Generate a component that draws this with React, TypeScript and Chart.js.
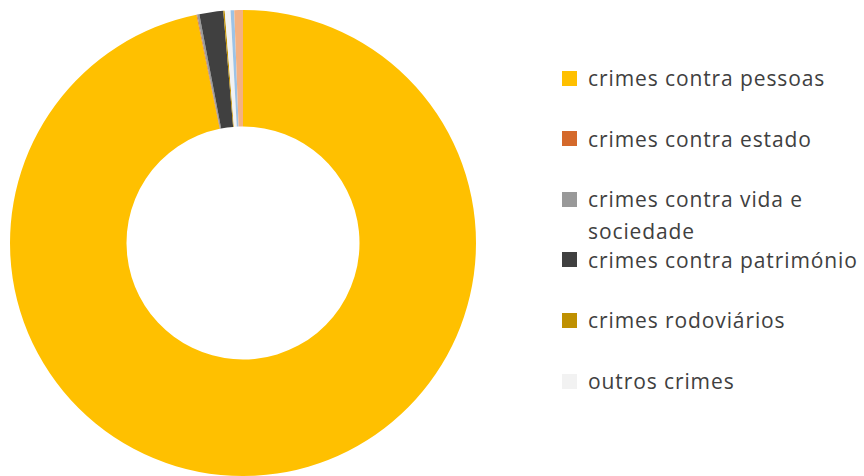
import React, { useEffect, useRef } from "react";
import { Chart, registerables } from "chart.js";

Chart.register(...registerables);

const categories = [
  "crimes contra pessoas",
  "crimes contra estado",
  "crimes contra vida e sociedade",
  "crimes contra património",
  "crimes rodoviários",
  "outros crimes",
];
// The two extra thin slices at the top have no legend entry in the reference
const extraSlices = ["", ""];
const values = [96.75, 0.05, 0.15, 1.65, 0.1, 0.4, 0.25, 0.6];
const colors = ["#FFC000", "#D4692B", "#999999", "#404040", "#BF9000", "#F2F2F2", "#9DC3E6", "#F4B183"];

export default function App() {
  const ref = useRef<HTMLCanvasElement | null>(null);
  useEffect(() => {
    if (!ref.current) return;
    const chart = new Chart(ref.current, {
      type: "doughnut",
      data: {
        labels: [...categories, ...extraSlices],
        datasets: [
          {
            data: values,
            backgroundColor: colors,
            borderWidth: 0,
          },
        ],
      },
      options: {
        animation: false,
        responsive: false,
        cutout: "50%",
        layout: { padding: 10 },
        plugins: { legend: { display: false }, tooltip: { enabled: false } },
      },
    });
    return () => chart.destroy();
  }, []);

  const slotTop = 78;
  const slotGap = 60.6;
  const lineH = 32;
  return (
    <div
      style={{
        position: "fixed",
        left: 0,
        top: 0,
        width: 864,
        height: 476,
        overflow: "hidden",
        background: "#fff",
      }}
    >
      <canvas ref={ref} width={486} height={486} style={{ position: "absolute", left: 0, top: 0 }} />
      {categories.map((c, i) => {
        const cy = slotTop + i * slotGap;
        return (
          <div key={c}>
            <div
              style={{
                position: "absolute",
                left: 562,
                top: cy - 7.5,
                width: 15,
                height: 15,
                background: colors[i],
              }}
            />
            <div
              style={{
                position: "absolute",
                left: 588,
                top: cy - lineH / 2,
                width: 278,
                lineHeight: lineH + "px",
                fontFamily: "'Open Sans', sans-serif",
                fontSize: 21,
                letterSpacing: "0.9px",
                color: "#404040",
                whiteSpace: "normal",
              }}
            >
              {c}
            </div>
          </div>
        );
      })}
    </div>
  );
}
